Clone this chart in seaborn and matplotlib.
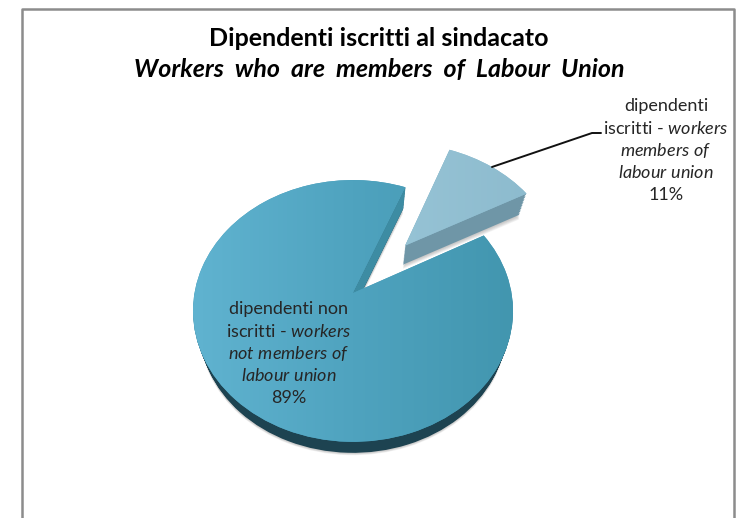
#!/usr/bin/env python3
import numpy as np
import matplotlib
matplotlib.use('Agg')
import matplotlib.pyplot as plt
import seaborn as sns
from matplotlib.transforms import Transform

# data
labels = ['iscritti', 'non iscritti']
values = [11, 89]
explode = [0.52, 0]
start_angle = 28.5

title_1 = 'Dipendenti iscritti al sindacato'
title_2 = 'Workers  who  are  members  of  Labour  Union'
text_small = ['dipendenti', r'iscritti - $\mathit{workers}$', r'$\mathit{members\ of}$',
              r'$\mathit{labour\ union}$', '11%']
text_big = ['dipendenti non', r'iscritti - $\mathit{workers}$', r'$\mathit{not\ members\ of}$',
            r'$\mathit{labour\ union}$', '89%']

sns.set_theme(style='white')
plt.rcParams['font.family'] = ['Lato', 'DejaVu Sans']
plt.rcParams['mathtext.fontset'] = 'custom'
plt.rcParams['mathtext.rm'] = 'Lato'
plt.rcParams['mathtext.it'] = 'Lato:italic'

# colori
MAIN_GRAD = sns.blend_palette(['#60b3d0', '#4fa3bf', '#4296af'], as_cmap=True)
SLICE_GRAD = sns.blend_palette(['#96c3d5', '#8dbbce'], as_cmap=True)
TEXT = '#262626'


class Persp(Transform):
    """vista 3D di Excel: cerchio unitario -> pixel, s = livello in profondita"""
    input_dims = 2
    output_dims = 2

    def __init__(self, s=1.0, xs=1.0):
        super().__init__()
        self.s = s
        self.xs = xs

    def transform_non_affine(self, xy):
        xy = np.asarray(xy, dtype=float)
        w = 1 + 0.137 * xy[:, 1]
        px = 353 + 158.5 * xy[:, 0] / w
        py = (293 - 88.3 * xy[:, 1]) / w
        px = 353 + self.xs * self.s * (px - 353)
        py = 710 + self.s * (py - 710)
        return np.column_stack([px, py])


fig = plt.figure(figsize=(7.37, 5.18), dpi=100)
ax = fig.add_axes([0, 0, 1, 1])


def draw_layer(s, colors, z_slice, z_main, alpha=None, xs=1.0):
    wedges, _ = ax.pie(values, explode=explode, startangle=start_angle, colors=colors,
                       wedgeprops={'linewidth': 0, 'alpha': alpha})
    for w, z in zip(wedges, (z_slice, z_main)):
        w.set_transform(Persp(s, xs) + ax.transData)
        w.set_zorder(z)
    return wedges


# ombra sotto la torta
for s, xs in zip(np.linspace(0.950, 0.957, 5), np.linspace(1.008, 1.002, 5)):
    draw_layer(s, ['#808080', '#808080'], 4.0, 0.5, alpha=0.10, xs=xs)

# fianchi
for s in np.linspace(0.959, 0.998, 14):
    draw_layer(s, ['#6f96a7', '#1d4351'], 5.0, 1.0)

# taglio visibile della fetta grande
ang = np.deg2rad(start_angle + 360 * values[0] / sum(values))
edge = np.array([[0, 0], [np.cos(ang), np.sin(ang)]])
top_edge = Persp(1.0).transform(edge)
low_edge = Persp(0.959).transform(edge)
quad = np.vstack([top_edge, low_edge[::-1]])
ax.fill(quad[:, 0], quad[:, 1], color='#3d8ca3', lw=0, zorder=2)

# facce superiori con sfumatura
tops = draw_layer(1.0, ['#8dbbce', '#4a9db9'], 6.0, 3.0)
grad = np.linspace(0, 1, 256).reshape(1, -1)
im_main = ax.imshow(grad, cmap=MAIN_GRAD, extent=(193, 513, 460, 160), aspect='auto', zorder=3.1)
im_main.set_clip_path(tops[1])
im_slice = ax.imshow(grad, cmap=SLICE_GRAD, extent=(400, 530, 270, 145), aspect='auto', zorder=6.1)
im_slice.set_clip_path(tops[0])

# linea guida
ax.plot([492, 592, 601], [167, 133, 133], color='#111111', lw=1.4, zorder=7, solid_joinstyle='miter')

# cornice (il bordo inferiore e tagliato)
ax.plot([22.5, 22.5, 734.5, 734.5], [530, 8.5, 8.5, 530], color='#8c8c8c', lw=1.8, zorder=8)

# titolo
ax.text(378.5, 39, title_1, ha='center', va='center', fontsize=18, fontweight='bold', color='black', zorder=9)
ax.text(379, 69, title_2, ha='center', va='center', fontsize=18, fontweight='bold', style='italic',
        color='black', zorder=9)

# etichette
for i, line in enumerate(text_small):
    ax.text(666, 106 + i * 22.3, line, ha='center', va='center', fontsize=13, color=TEXT, zorder=9)
for i, line in enumerate(text_big):
    ax.text(288.5, 309 + i * 22.3, line, ha='center', va='center', fontsize=13, color=TEXT, zorder=9)

ax.set_xlim(0, 737)
ax.set_ylim(518, 0)
ax.set_aspect('auto')
ax.axis('off')

fig.savefig('out.png', dpi=100, facecolor='white')
plt.close(fig)
